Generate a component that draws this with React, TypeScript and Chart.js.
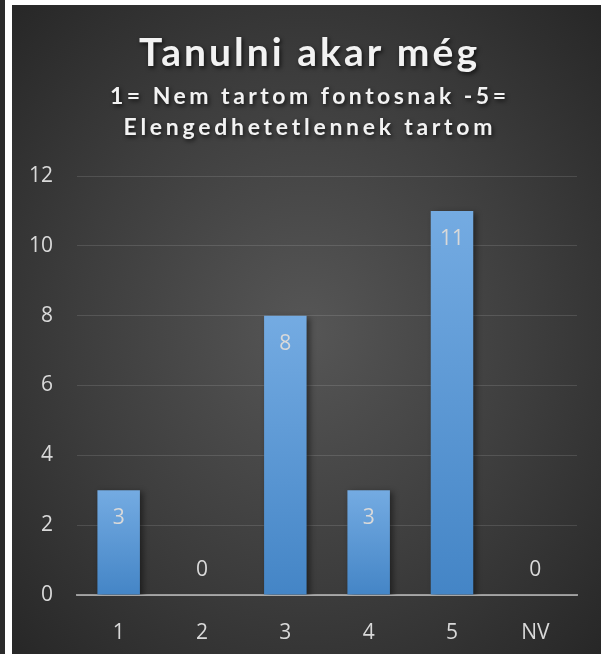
import React, { useEffect, useRef } from "react";
import { Chart, registerables } from "chart.js";

Chart.register(...registerables);

const categories = ["1", "2", "3", "4", "5", "NV"];
const values = [3, 0, 8, 3, 11, 0];
const yTicks = [0, 2, 4, 6, 8, 10, 12];
const titleText = "Tanulni akar még";
const subtitleLines = ["1= Nem tartom fontosnak -5=", "Elengedhetetlennek tartom"];

export default function App() {
  const ref = useRef<HTMLCanvasElement>(null);

  useEffect(() => {
    document.body.style.margin = "0";
    const canvas = ref.current!;

    const titlePlugin = {
      id: "titles",
      afterDraw(chart: any) {
        const ctx = chart.ctx as CanvasRenderingContext2D;
        const cx = 296;
        const drawLine = (text: string, font: string, baseline: number, targetW: number) => {
          ctx.save();
          ctx.font = font;
          (ctx as any).letterSpacing = "0px";
          const w = ctx.measureText(text).width;
          const ls = Math.max(0, (targetW - w) / (text.length - 1));
          (ctx as any).letterSpacing = ls + "px";
          ctx.textAlign = "left";
          ctx.textBaseline = "alphabetic";
          ctx.shadowColor = "rgba(0,0,0,0.7)";
          ctx.shadowBlur = 4;
          ctx.shadowOffsetX = 1.5;
          ctx.shadowOffsetY = 2;
          ctx.fillStyle = "#f2f2f2";
          const total = w + ls * (text.length - 1);
          ctx.fillText(text, cx - total / 2, baseline);
          ctx.restore();
        };
        drawLine(titleText, "bold 39px Lato", 61, 338);
        drawLine(subtitleLines[0], "bold 23px Lato", 99, 396);
        drawLine(subtitleLines[1], "bold 23px Lato", 130, 369);
      },
    };

    const shadowLabelPlugin = {
      id: "shadowLabels",
      beforeDatasetsDraw(chart: any) {
        const ctx = chart.ctx as CanvasRenderingContext2D;
        ctx.save();
        ctx.shadowColor = "rgba(0,0,0,0.45)";
        ctx.shadowBlur = 6;
        ctx.shadowOffsetX = 3;
        ctx.shadowOffsetY = 2;
      },
      afterDatasetsDraw(chart: any) {
        const ctx = chart.ctx as CanvasRenderingContext2D;
        ctx.restore();
        const meta = chart.getDatasetMeta(0);
        ctx.save();
        ctx.font = "21px 'Open Sans'";
        ctx.fillStyle = "#d9d9d9";
        ctx.textAlign = "center";
        ctx.textBaseline = "middle";
        meta.data.forEach((bar: any, i: number) => {
          const v = values[i];
          const y = v > 0 ? bar.y + 28 : bar.base - 25;
          ctx.fillText(String(v), bar.x, y);
        });
        ctx.restore();
      },
    };

    const chart = new Chart(canvas, {
      type: "bar",
      data: {
        labels: categories,
        datasets: [
          {
            data: values,
            backgroundColor: (c: any) => {
              const ch = c.chart;
              const ys = ch.scales && ch.scales.y;
              if (!ys || c.dataIndex === undefined) return "#5b9bd5";
              const v = values[c.dataIndex];
              const top = ys.getPixelForValue(v);
              const base = ys.getPixelForValue(0);
              if (!isFinite(top) || top === base) return "#5b9bd5";
              const g = ch.ctx.createLinearGradient(0, top, 0, base);
              g.addColorStop(0, "#74abe2");
              g.addColorStop(1, "#4485c6");
              return g;
            },
            borderWidth: 0,
            barPercentage: 0.51,
            categoryPercentage: 1,
          },
        ],
      },
      options: {
        animation: false,
        responsive: true,
        maintainAspectRatio: false,
        layout: { padding: { top: 171, right: 24, left: 0, bottom: 0 } },
        plugins: {
          legend: { display: false },
          tooltip: { enabled: false },
          title: { display: false },
        },
        scales: {
          x: {
            z: 1,
            grid: { display: false },
            border: { display: true, color: "rgba(255,255,255,0.5)", width: 2 },
            ticks: {
              color: "#d9d9d9",
              font: { family: "'Open Sans'", size: 21 },
              padding: 17,
            },
            afterFit: (s: any) => {
              s.height = 59;
            },
          },
          y: {
            min: yTicks[0],
            max: yTicks[yTicks.length - 1],
            grid: { color: "rgba(255,255,255,0.12)", lineWidth: 1, drawTicks: false },
            border: { display: false },
            ticks: {
              stepSize: yTicks[1] - yTicks[0],
              color: "#d9d9d9",
              font: { family: "'Open Sans'", size: 21 },
              padding: 24,
            },
            afterFit: (s: any) => {
              s.width = 65;
            },
          },
        },
      },
      plugins: [shadowLabelPlugin, titlePlugin],
    });

    return () => chart.destroy();
  }, []);

  return (
    <div style={{ position: "fixed", left: 0, top: 0, width: 601, height: 654, background: "#ffffff", overflow: "hidden" }}>
      <div style={{ position: "absolute", left: 0, top: 0, width: 5, height: 654, background: "#2b2b2b" }} />
      <div
        style={{
          position: "absolute",
          left: 12,
          top: 5,
          width: 589,
          height: 649,
          background: "radial-gradient(ellipse at 50% 50%, #565656 0%, #3d3d3d 55%, #272727 100%)",
        }}
      >
        <canvas ref={ref} />
      </div>
    </div>
  );
}
